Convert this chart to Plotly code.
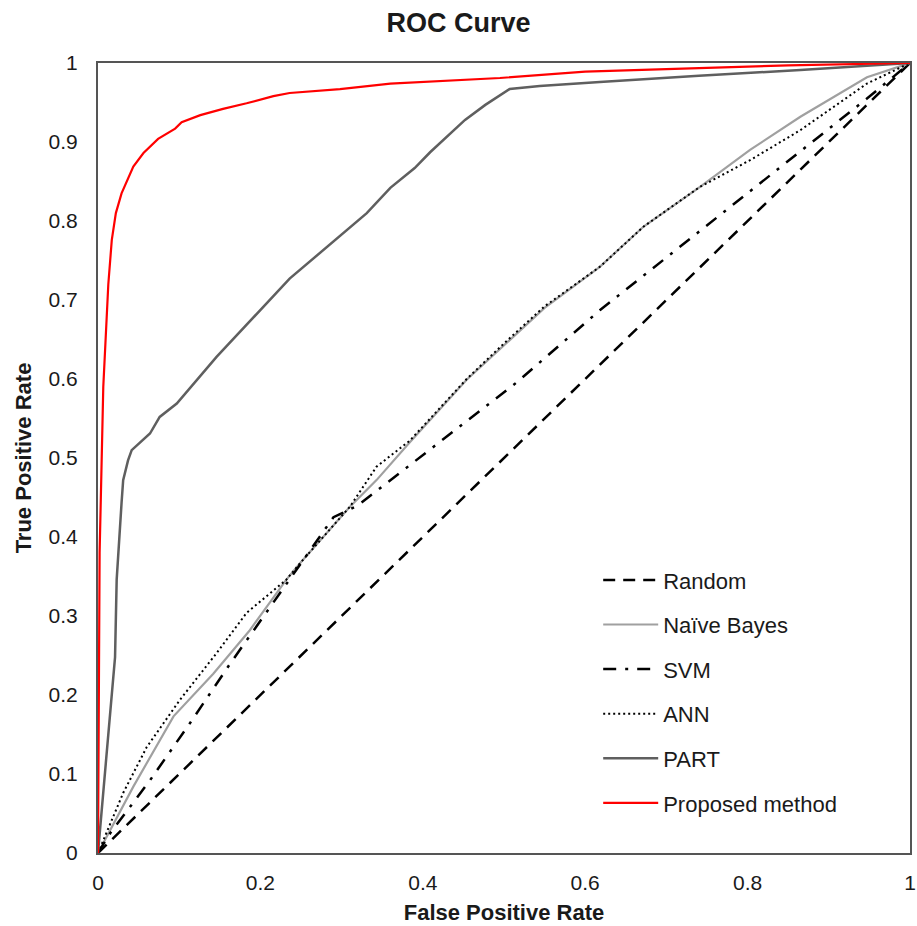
import plotly.graph_objects as go

# ---- data ----
random_x = [0, 1]
random_y = [0, 1]

nb_x = [0, 0.0435, 0.093, 0.142, 0.187, 0.232, 0.249, 0.31, 0.343, 0.384, 0.454, 0.5, 0.55, 0.618, 0.672, 0.741, 0.803, 0.865, 0.947, 1]
nb_y = [0, 0.084, 0.173, 0.227, 0.282, 0.346, 0.367, 0.438, 0.472, 0.52, 0.599, 0.643, 0.69, 0.742, 0.793, 0.843, 0.89, 0.932, 0.982, 1]

svm_x = [0, 0.015, 0.064, 0.113, 0.163, 0.212, 0.29, 0.32, 0.516, 0.618, 0.782, 0.947, 1]
svm_y = [0, 0.025, 0.092, 0.164, 0.24, 0.312, 0.425, 0.44, 0.596, 0.687, 0.82, 0.955, 1]

ann_x = [0, 0.031, 0.06, 0.101, 0.146, 0.183, 0.232, 0.249, 0.31, 0.343, 0.384, 0.454, 0.5, 0.55, 0.618, 0.672, 0.741, 0.803, 0.865, 0.947, 1]
ann_y = [0, 0.076, 0.134, 0.194, 0.253, 0.304, 0.346, 0.367, 0.438, 0.489, 0.522, 0.6, 0.645, 0.692, 0.742, 0.793, 0.843, 0.877, 0.915, 0.974, 1]

part_x = [0, 0.021, 0.023, 0.025, 0.029, 0.031, 0.037, 0.0415, 0.064, 0.076, 0.097, 0.146, 0.224, 0.236, 0.331, 0.36, 0.39, 0.409, 0.452, 0.477, 0.507, 0.544, 0.618, 0.74, 0.865, 1]
part_y = [0, 0.248, 0.346, 0.384, 0.443, 0.472, 0.497, 0.51, 0.531, 0.552, 0.569, 0.628, 0.715, 0.727, 0.81, 0.842, 0.867, 0.887, 0.928, 0.947, 0.967, 0.971, 0.976, 0.984, 0.991, 1]

prop_x = [0, 0.001, 0.002, 0.0065, 0.0127, 0.017, 0.022, 0.029, 0.0435, 0.056, 0.064, 0.074, 0.095, 0.103, 0.126, 0.154, 0.183, 0.216, 0.236, 0.298, 0.36, 0.495, 0.6, 0.74, 0.85, 1]
prop_y = [0, 0.2, 0.38, 0.59, 0.72, 0.776, 0.81, 0.835, 0.869, 0.886, 0.894, 0.904, 0.917, 0.925, 0.934, 0.942, 0.949, 0.958, 0.962, 0.967, 0.974, 0.981, 0.989, 0.994, 0.997, 1]

x_ticks = [0, 0.2, 0.4, 0.6, 0.8, 1]
x_tick_labels = ["0", "0.2", "0.4", "0.6", "0.8", "1"]
y_ticks = [0, 0.1, 0.2, 0.3, 0.4, 0.5, 0.6, 0.7, 0.8, 0.9, 1]
y_tick_labels = ["0", "0.1", "0.2", "0.3", "0.4", "0.5", "0.6", "0.7", "0.8", "0.9", "1"]

FONT = "Liberation Sans, Arial, sans-serif"
TXT = "#1a1a1a"

fig = go.Figure()
series = [
    ("Random", random_x, random_y, dict(color="black", width=2.5, dash="12px,8px")),
    ("Naïve Bayes", nb_x, nb_y, dict(color="#a0a0a0", width=2.2)),
    ("SVM", svm_x, svm_y, dict(color="black", width=2.5, dash="13px,9px,3px,9px")),
    ("ANN", ann_x, ann_y, dict(color="black", width=2, dash="2px,3px")),
    ("PART", part_x, part_y, dict(color="#5f5f5f", width=2.5)),
    ("Proposed method", prop_x, prop_y, dict(color="#ff0000", width=2.2)),
]
for i, (name, xs, ys, line) in enumerate(series):
    fig.add_trace(go.Scatter(x=xs, y=ys, mode="lines", name=name, line=line,
                             legendgroup=f"g{i}"))

fig.update_layout(
    width=917, height=926,
    paper_bgcolor="white", plot_bgcolor="white",
    margin=dict(l=98, r=7, t=63, b=73),
    title=dict(text="<b>ROC Curve</b>", x=0.5, xanchor="center", y=0.976, yanchor="middle",
               font=dict(family=FONT, size=27, color=TXT)),
    font=dict(family=FONT, size=21, color=TXT),
    legend=dict(x=0.616, y=0.372, xanchor="left", yanchor="top",
                bgcolor="rgba(0,0,0,0)", itemwidth=55, tracegroupgap=13,
                font=dict(family=FONT, size=22, color=TXT)),
    showlegend=True,
)
fig.update_xaxes(range=[0, 1], tickvals=x_ticks, ticktext=x_tick_labels, showgrid=False,
                 zeroline=False, showline=True, mirror=True, linecolor="#555", linewidth=2,
                 ticks="", ticklen=0, ticklabelstandoff=10, automargin=False,
                 ticklabeloverflow="allow",
                 tickfont=dict(size=21, color=TXT),
                 title=dict(text="<b>False Positive Rate</b>", font=dict(size=22, color=TXT), standoff=11))
fig.update_yaxes(range=[0, 1], tickvals=y_ticks, ticktext=y_tick_labels, showgrid=False,
                 zeroline=False, showline=True, mirror=True, linecolor="#555", linewidth=2,
                 ticks="", ticklen=0, ticklabelstandoff=14, automargin=False,
                 ticklabeloverflow="allow",
                 tickfont=dict(size=21, color=TXT),
                 title=dict(text="<b>True Positive Rate</b>", font=dict(size=22, color=TXT), standoff=11))

fig.write_html("out.html", config={"displayModeBar": False},
               post_script="document.body.style.margin='0';document.body.style.overflow='hidden';")
